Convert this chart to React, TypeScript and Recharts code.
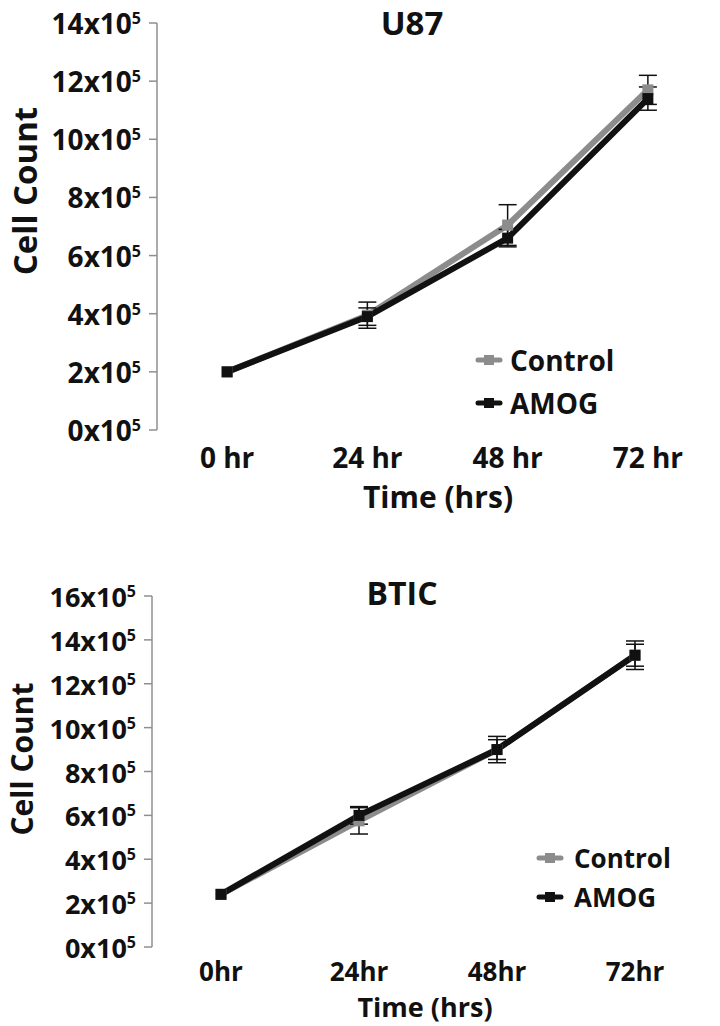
import React from "react";
import { LineChart, Line, XAxis, YAxis, ErrorBar } from "recharts";

// values are in units of 10^5 cells
const u87Hours = ["0 hr", "24 hr", "48 hr", "72 hr"];
const u87Control = [2.0, 3.95, 7.05, 11.7];
const u87ControlErr = [0, 0.45, 0.7, 0.5];
const u87Amog = [2.0, 3.9, 6.6, 11.4];
const u87AmogErr = [0, 0.3, 0.3, 0.4];
const u87Ticks = [0, 2, 4, 6, 8, 10, 12, 14];

const bticHours = ["0hr", "24hr", "48hr", "72hr"];
const bticControl = [2.4, 5.75, 9.0, 13.3];
const bticControlErr = [0, 0.6, 0.6, 0.65];
const bticAmog = [2.4, 6.0, 9.0, 13.3];
const bticAmogErr = [0, 0.4, 0.45, 0.5];
const bticTicks = [0, 2, 4, 6, 8, 10, 12, 14, 16];

const FONT = "'Open Sans', 'DejaVu Sans', sans-serif";
const GREY = "#8c8c8c";
const BLACK = "#111";
const AXIS = "#8f8f8f";

function buildRows(hours: string[], c: number[], ce: number[], a: number[], ae: number[]) {
    return hours.map((h, i) => ({
        pos: i + 0.5,
        label: h,
        control: c[i],
        controlErr: ce[i],
        amog: a[i],
        amogErr: ae[i],
    }));
}

function PowerTick(props: any) {
    const { x, y, payload, size } = props;
    return (
        <text x={x} y={y + 11} textAnchor="end" fontFamily={FONT} fontWeight={700} fontSize={size} fill={BLACK}>
            <tspan>{payload.value}x10</tspan>
            <tspan dy={-10} fontSize={16}>5</tspan>
        </text>
    );
}

const squareDot = (color: string) => (p: any) => (
    <rect key={`d-${p.index}`} x={p.cx - 5.5} y={p.cy - 5.5} width={11} height={11} fill={color} />
);

function LegendBox({ left, top, rowH, fontSize, gap }: { left: number; top: number; rowH: number; fontSize: number; gap: number }) {
    const items = [
        { name: "Control", color: GREY },
        { name: "AMOG", color: BLACK },
    ];
    return (
        <div style={{ position: "absolute", left, top, fontFamily: FONT, fontWeight: 700 }}>
            {items.map((it) => (
                <div key={it.name} style={{ display: "flex", alignItems: "center", height: rowH, gap }}>
                    <svg width={28} height={12}>
                        <line x1={3} x2={25} y1={6} y2={6} stroke={it.color} strokeWidth={5} strokeLinecap="round" />
                        <rect x={9} y={1} width={10} height={10} fill={it.color} />
                    </svg>
                    <span style={{ fontSize, lineHeight: 1, color: BLACK }}>{it.name}</span>
                </div>
            ))}
        </div>
    );
}

// centred text in the page overlay; cx, cy is the middle of the capitals
function Txt({ cx, cy, size, rotate, children }: { cx: number; cy: number; size: number; rotate?: boolean; children: React.ReactNode }) {
    return (
        <text
            transform={`translate(${cx},${cy})${rotate ? " rotate(-90)" : ""}`}
            x={0}
            y={size * 0.357}
            textAnchor="middle"
            fontFamily={FONT}
            fontWeight={700}
            fontSize={size}
            fill={BLACK}
        >
            {children}
        </text>
    );
}

function GrowthChart({
    rows,
    hours,
    ticks,
    width,
    height,
    margin,
    yWidth,
    labelMargin,
    xFont,
    yFont,
}: {
    rows: any[];
    hours: string[];
    ticks: number[];
    width: number;
    height: number;
    margin: { top: number; right: number; bottom: number; left: number };
    yWidth: number;
    labelMargin: number;
    xFont: number;
    yFont: number;
}) {
    const top = ticks[ticks.length - 1];
    return (
        <LineChart width={width} height={height} data={rows} margin={margin}>
            <XAxis
                xAxisId="grid"
                type="number"
                dataKey="pos"
                domain={[0, 4]}
                ticks={[0, 1, 2, 3, 4]}
                tick={false}
                tickSize={8}
                height={0}
                axisLine={{ stroke: AXIS, strokeWidth: 1.5 }}
                tickLine={{ stroke: AXIS, strokeWidth: 1.5 }}
            />
            <XAxis
                xAxisId="lab"
                type="number"
                dataKey="pos"
                domain={[0, 4]}
                ticks={[0.5, 1.5, 2.5, 3.5]}
                tickFormatter={(v: number) => hours[Math.floor(v)]}
                axisLine={false}
                tickLine={false}
                tickSize={0}
                tickMargin={labelMargin}
                height={40}
                tick={{ fontFamily: FONT, fontWeight: 700, fontSize: xFont, fill: BLACK }}
            />
            <YAxis
                type="number"
                domain={[0, top]}
                ticks={ticks}
                width={yWidth}
                tickSize={8}
                tickMargin={8}
                axisLine={{ stroke: AXIS, strokeWidth: 1.5 }}
                tickLine={{ stroke: AXIS, strokeWidth: 1.5 }}
                tick={(p: any) => <PowerTick {...p} size={yFont} />}
            />
            <Line
                xAxisId="grid"
                dataKey="control"
                stroke={GREY}
                strokeWidth={6}
                dot={squareDot(GREY)}
                activeDot={false}
                isAnimationActive={false}
            >
                <ErrorBar dataKey="controlErr" width={9} stroke={BLACK} strokeWidth={1.5} direction="y" />
            </Line>
            <Line
                xAxisId="grid"
                dataKey="amog"
                stroke={BLACK}
                strokeWidth={6}
                dot={squareDot(BLACK)}
                activeDot={false}
                isAnimationActive={false}
            >
                <ErrorBar dataKey="amogErr" width={9} stroke={BLACK} strokeWidth={1.5} direction="y" />
            </Line>
        </LineChart>
    );
}

export default function App() {
    const u87Rows = React.useMemo(() => buildRows(u87Hours, u87Control, u87ControlErr, u87Amog, u87AmogErr), []);
    const bticRows = React.useMemo(() => buildRows(bticHours, bticControl, bticControlErr, bticAmog, bticAmogErr), []);

    return (
        <div style={{ position: "absolute", left: 0, top: 0, width: 720, height: 1026, background: "#fff", overflow: "hidden" }}>
            {/* U87 */}
            <div style={{ position: "absolute", left: 0, top: 0 }}>
                <GrowthChart
                    rows={u87Rows}
                    hours={u87Hours}
                    ticks={u87Ticks}
                    width={720}
                    height={530}
                    margin={{ top: 23, right: 2, bottom: 60, left: 0 }}
                    yWidth={157}
                    labelMargin={18}
                    xFont={28}
                    yFont={28}
                />
            </div>
            <LegendBox left={475} top={338} rowH={43} fontSize={28} gap={7} />

            {/* BTIC */}
            <div style={{ position: "absolute", left: 0, top: 560 }}>
                <GrowthChart
                    rows={bticRows}
                    hours={bticHours}
                    ticks={bticTicks}
                    width={720}
                    height={466}
                    margin={{ top: 36, right: 16, bottom: 39, left: 0 }}
                    yWidth={152}
                    labelMargin={16}
                    xFont={26}
                    yFont={27}
                />
            </div>
            <LegendBox left={536} top={838} rowH={39} fontSize={26} gap={10} />

            <svg width={720} height={1026} style={{ position: "absolute", left: 0, top: 0, pointerEvents: "none" }}>
                <Txt cx={412} cy={23} size={33}>U87</Txt>
                <Txt cx={25} cy={191} size={33} rotate>Cell Count</Txt>
                <Txt cx={438} cy={497} size={30}>Time (hrs)</Txt>
                <Txt cx={402} cy={594} size={32}>BTIC</Txt>
                <Txt cx={22} cy={759} size={30} rotate>Cell Count</Txt>
                <Txt cx={425} cy={1007} size={27}>Time (hrs)</Txt>
            </svg>
        </div>
    );
}
